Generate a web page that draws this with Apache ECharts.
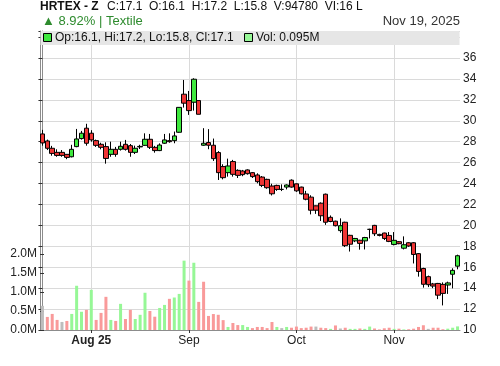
<!DOCTYPE html>
<html>
<head>
<meta charset="utf-8">
<script src="https://cdn.jsdelivr.net/npm/echarts@6/dist/echarts.min.js"></script>
<style>
  html, body { margin: 0; padding: 0; background: #fff; }
  #chart { width: 500px; height: 366px; }
</style>
</head>
<body>
<div id="chart"></div>
<script>
// daily candles, oldest first (last one is Nov 19, 2025)
const open = [28.74,28.07,27.37,26.98,26.98,26.79,26.56,27.53,28.3,29.29,
  28.81,28.1,27.75,27.53,26.79,27.27,27.27,27.75,27.62,26.98,
  27.5,27.65,28.23,27.46,27.15,27.85,28.1,28.1,28.9,32.54,
  31.93,31.77,31.93,27.66,27.92,27.66,26.96,25.62,25.04,26.1,
  25.26,25.2,25.3,25.04,24.82,24.62,24.4,23.76,23.82,23.44,
  23.66,24.32,23.97,23.66,23.0,22.7,21.87,22.12,22.98,20.77,
  20.4,19.5,20.3,19.05,18.52,18.58,18.52,19.62,20.0,19.14,
  19.27,19.04,18.18,18.44,17.82,18.34,18.34,17.3,15.88,15.1,
  14.4,14.45,14.36,14.3,15.33,16.1];
const close = [27.88,27.37,26.88,26.69,26.69,26.5,27.27,28.26,28.81,27.85,
  28.17,27.65,27.46,26.4,27.27,26.79,27.56,27.27,26.98,27.37,
  27.55,28.23,27.46,27.15,27.68,28.17,28.0,28.55,31.28,31.68,
  30.97,33.97,30.62,27.85,27.66,26.38,25.04,24.56,25.68,24.88,
  24.78,24.85,24.94,24.66,24.18,23.82,23.6,23.02,23.44,23.44,
  23.86,23.66,23.3,23.02,22.5,21.45,21.45,20.92,20.3,20.37,
  19.97,19.97,18.06,18.2,18.75,18.28,18.84,19.62,19.2,19.04,
  18.75,18.47,18.57,18.25,18.15,18.03,17.22,15.6,14.37,14.33,
  14.2,13.33,13.5,14.5,15.7,17.1];
const low = [27.62,27.2,26.66,26.56,26.56,26.33,26.5,27.47,28.2,27.62,
  28.0,27.5,27.27,25.9,26.56,26.56,27.15,27.15,26.56,26.82,
  27.3,27.6,27.3,26.95,27.1,27.78,27.9,27.85,28.85,31.26,
  30.56,30.97,30.62,27.6,27.28,26.16,24.34,24.4,24.66,24.66,
  24.53,24.7,24.85,24.53,24.02,23.66,23.5,22.86,23.3,23.28,
  23.44,23.6,23.2,22.95,22.4,21.05,21.1,20.42,20.05,20.3,
  19.9,19.3,17.93,17.5,18.4,17.68,17.7,18.75,18.98,18.95,
  18.6,18.4,18.09,18.2,17.7,17.95,16.36,15.1,14.05,14.1,
  14.0,12.95,12.35,13.45,13.98,15.8];
const high = [29.13,28.2,27.6,27.27,27.2,26.8,27.7,29.22,29.03,29.71,
  29.1,28.2,27.9,27.94,28.0,27.5,28.0,28.17,27.78,27.62,
  27.7,28.8,28.74,27.6,27.84,28.74,28.8,28.97,31.3,33.9,
  32.85,34.06,31.93,29.29,29.2,28.3,27.1,25.84,26.38,26.26,
  25.36,25.3,25.36,25.1,24.98,24.72,24.46,23.98,23.89,23.92,
  23.92,24.4,24.0,23.7,23.3,22.88,21.9,22.2,23.04,20.95,
  20.45,20.67,20.35,19.1,18.8,18.62,18.9,19.68,20.05,19.2,
  19.3,19.36,19.36,18.5,18.95,18.4,18.4,17.35,15.95,15.2,
  14.5,14.5,14.55,14.62,15.9,17.2];
// volume in millions, and its colour key (u = up, d = down, n = unchanged)
const volume = [0.635,0.344,0.423,0.265,0.212,0.238,0.423,1.164,0.48,0.53,
  1.058,0.265,0.45,0.873,0.265,0.238,0.688,0.29,0.53,0.29,
  0.40,0.98,0.50,0.35,0.58,0.66,0.82,0.855,0.95,1.825,
  1.30,1.77,0.74,1.27,0.37,0.42,0.40,0.26,0.08,0.185,
  0.13,0.13,0.08,0.05,0.08,0.08,0.05,0.21,0.08,0.05,
  0.08,0.06,0.09,0.05,0.06,0.09,0.09,0.06,0.05,0.03,
  0.12,0.04,0.06,0.03,0.03,0.04,0.03,0.09,0.04,0.015,
  0.045,0.06,0.03,0.035,0.015,0.02,0.035,0.08,0.125,0.03,
  0.06,0.06,0.02,0.035,0.06,0.095];
const volDir = ('ndddnduuud' + 'udddududdu' + 'uudduuduuu' + 'duddddddud' +
  'duudddddun' + 'udddddnddu' + 'dnduuduudd' + 'ddududdddn' + 'ddduuu').split('');

// month ticks: candle index and its label
const tickIdx = [10, 30, 52, 72];
const tickText = ['Aug 25', 'Sep', 'Oct', 'Nov'];

const cats = open.map((_, i) => String(i));
const volColors = { u: '#96f796', d: '#f99a9a', n: '#bdbdbd' };
const font = 'Liberation Sans, Arial, sans-serif';

const chart = echarts.init(document.getElementById('chart'));

const option = {
  animation: false,
  backgroundColor: '#ffffff',
  textStyle: { fontFamily: font },
  grid: [
    { left: 40, right: 40, top: 31, bottom: 36 },
    { left: 40, right: 40, top: 254, bottom: 36 }
  ],
  xAxis: [
    { type: 'category', gridIndex: 0, data: cats, boundaryGap: true, show: false },
    {
      type: 'value', gridIndex: 0, min: -0.5, max: cats.length - 0.5, position: 'bottom',
      axisLine: { show: true, lineStyle: { color: '#8c8c8c' } },
      axisTick: { show: true, customValues: tickIdx, length: 3, lineStyle: { color: '#333' } },
      axisLabel: {
        customValues: tickIdx, margin: 5, fontSize: 12, color: '#222',
        formatter: v => {
          const k = tickIdx.indexOf(Math.round(v));
          if (k < 0) return '';
          return k === 0 ? '{b|' + tickText[k] + '}' : tickText[k];
        },
        rich: { b: { fontWeight: 'bold', fontSize: 12, color: '#222' } }
      },
      splitLine: { show: true, lineStyle: { color: '#dadada' } }
    },
    { type: 'category', gridIndex: 1, data: cats, boundaryGap: true, show: false }
  ],
  yAxis: [
    {
      type: 'value', gridIndex: 0, position: 'right', min: 10, max: 38.58, interval: 2,
      axisLine: { show: true, lineStyle: { color: '#8c8c8c' } },
      axisTick: { show: true, inside: true, length: 4, lineStyle: { color: '#333' } },
      axisLabel: {
        margin: 3, fontSize: 12, color: '#222',
        formatter: v => (v > 36 ? '' : String(v))
      },
      splitLine: { show: true, lineStyle: { color: '#dadada' } }
    },
    {
      type: 'value', gridIndex: 0, position: 'left', min: 10, max: 38.58,
      axisLine: { show: true, lineStyle: { color: '#8c8c8c' } },
      axisTick: { show: false }, axisLabel: { show: false }, splitLine: { show: false }
    },
    {
      type: 'value', gridIndex: 1, position: 'left', min: 0, max: 2, interval: 0.5,
      axisLine: { show: false },
      axisTick: { show: true, inside: true, length: 4, lineStyle: { color: '#333' } },
      axisLabel: { margin: 3, fontSize: 12, color: '#222', formatter: v => v.toFixed(1) + 'M' },
      splitLine: { show: false }
    }
  ],
  series: [
    {
      type: 'bar', xAxisIndex: 2, yAxisIndex: 2, barWidth: 3,
      data: volume.map((v, i) => ({ value: v, itemStyle: { color: volColors[volDir[i]] } }))
    },
    {
      type: 'candlestick', xAxisIndex: 0, yAxisIndex: 0, barWidth: 5,
      data: open.map((o, i) => [o, close[i], low[i], high[i]]),
      itemStyle: {
        color: '#3ee83e', color0: '#ef3535',
        borderColor: '#000', borderColor0: '#000', borderColorDoji: '#000', borderWidth: 1
      }
    }
  ],
  graphic: [
    { type: 'text', x: 40, y: 7, style: { text: 'HRTEX - Z', font: 'bold 12px ' + font, fill: '#111', textVerticalAlign: 'middle' } },
    { type: 'text', x: 107, y: 7, style: { text: 'C:17.1  O:16.1  H:17.2  L:15.8  V:94780  VI:16 L', font: '12px ' + font, fill: '#111', textVerticalAlign: 'middle' } },
    { type: 'text', x: 42, y: 21, style: { text: '▲ 8.92% | Textile', font: '13px ' + font, fill: '#2e8b2e', textVerticalAlign: 'middle' } },
    { type: 'text', x: 460, y: 21, style: { text: 'Nov 19, 2025', font: '13px ' + font, fill: '#333', textAlign: 'right', textVerticalAlign: 'middle' } },
    { type: 'rect', z: 100, shape: { x: 40.5, y: 31, width: 419, height: 14 }, style: { fill: '#e6e6e6' } },
    { type: 'rect', z: 101, shape: { x: 43.5, y: 33.5, width: 8, height: 8 }, style: { fill: '#3ee83e', stroke: '#000', lineWidth: 1 } },
    { type: 'text', z: 101, x: 55, y: 38, style: { text: 'Op:16.1, Hi:17.2, Lo:15.8, Cl:17.1', font: '12px ' + font, fill: '#111', textVerticalAlign: 'middle' } },
    { type: 'rect', z: 101, shape: { x: 244.5, y: 33.5, width: 8, height: 8 }, style: { fill: '#96f796', stroke: '#000', lineWidth: 1 } },
    { type: 'text', z: 101, x: 256, y: 38, style: { text: 'Vol: 0.095M', font: '12px ' + font, fill: '#111', textVerticalAlign: 'middle' } }
  ]
};

chart.setOption(option);
</script>
</body>
</html>
